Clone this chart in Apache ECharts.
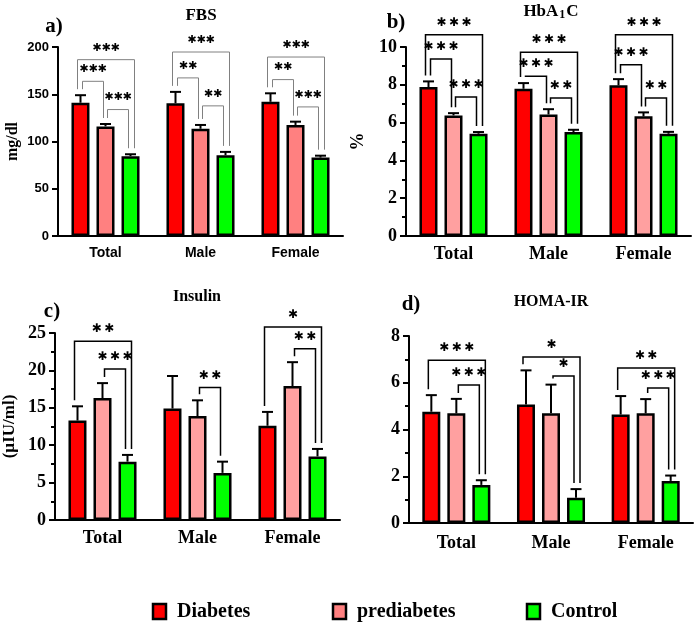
<!DOCTYPE html>
<html>
<head>
<meta charset="utf-8">
<script src="https://cdn.jsdelivr.net/npm/echarts@6/dist/echarts.min.js"></script>
<style>
  html, body { margin: 0; padding: 0; background: #fff; }
  #chart { width: 696px; height: 628px; }
</style>
</head>
<body>
<div id="chart"></div>
<script>
// categories and groups
const categories = ['Total', 'Male', 'Female'];
const groupNames = ['Diabetes', 'prediabetes', 'Control'];

// a) FBS (mg/dl): mean and SEM per group
const fbsDiabetes = [141, 140.5, 142];
const fbsDiabetesSem = [8, 12, 9];
const fbsPre = [116, 113.5, 117.5];
const fbsPreSem = [2.5, 4, 3.5];
const fbsControl = [84.5, 85.5, 83];
const fbsControlSem = [2, 3.5, 2];
// [category, groupA, groupB, bracket height, number of stars]
const fbsBrackets = [
  [0, 0, 2, 186.6, 3], [0, 0, 1, 163.7, 3], [0, 1, 2, 133.8, 3],
  [1, 0, 2, 194.7, 3], [1, 0, 1, 167.3, 2], [1, 1, 2, 137.7, 2],
  [2, 0, 2, 189.4, 3], [2, 0, 1, 165.5, 2], [2, 1, 2, 136.6, 3]
];

// b) HbA1C (%)
const hbaDiabetes = [7.88, 7.79, 7.97];
const hbaDiabetesSem = [0.3, 0.3, 0.33];
const hbaPre = [6.38, 6.43, 6.33];
const hbaPreSem = [0.12, 0.28, 0.21];
const hbaControl = [5.41, 5.5, 5.41];
const hbaControlSem = [0.09, 0.12, 0.1];
const hbaBrackets = [
  [0, 0, 2, 10.65, 3], [0, 0, 1, 9.36, 3], [0, 1, 2, 7.35, 3],
  [1, 0, 2, 9.72, 3], [1, 0, 1, 8.45, 3], [1, 1, 2, 7.3, 2],
  [2, 0, 2, 10.65, 3], [2, 0, 1, 9.06, 3], [2, 1, 2, 7.3, 2]
];

// c) Insulin (µIU/ml)
const insDiabetes = [13.3, 14.9, 12.6];
const insDiabetesSem = [1.9, 4.35, 1.85];
const insPre = [16.3, 13.9, 17.9];
const insPreSem = [2.0, 2.1, 3.2];
const insControl = [7.8, 6.3, 8.5];
const insControlSem = [0.9, 1.5, 1.0];
const insBrackets = [
  [0, 0, 2, 23.9, 2], [0, 1, 2, 20.2, 3],
  [1, 1, 2, 17.7, 2],
  [2, 0, 2, 25.8, 1], [2, 1, 2, 22.9, 2]
];

// d) HOMA-IR
const homaDiabetes = [4.76, 5.07, 4.64];
const homaDiabetesSem = [0.71, 1.46, 0.79];
const homaPre = [4.69, 4.69, 4.69];
const homaPreSem = [0.62, 1.23, 0.61];
const homaControl = [1.63, 1.08, 1.8];
const homaControlSem = [0.2, 0.37, 0.23];
const homaBrackets = [
  [0, 0, 2, 6.96, 3], [0, 1, 2, 5.9, 3],
  [1, 0, 2, 7.1, 1], [1, 1, 2, 6.29, 1],
  [2, 0, 2, 6.63, 2], [2, 1, 2, 5.78, 3]
];

const SERIF = "Liberation Serif";
const SANS = "Liberation Sans";
const BAR_STEP = 25; // px between bar centres in a group

const chart = echarts.init(document.getElementById('chart'));

// builds bars + error bars + significance brackets for one panel
function panelSeries(k, means, sems, brackets, colors, lineColor, lineWidth, starSize, starSep) {
  const series = [];
  means.forEach((m, g) => {
    series.push({
      type: 'bar', name: groupNames[g], xAxisIndex: k, yAxisIndex: k,
      data: m, barWidth: 18, barGap: '39%', silent: true,
      itemStyle: { color: colors[g], borderColor: '#000', borderWidth: 2.5 }
    });
  });

  const errData = [];
  means.forEach((m, g) => m.forEach((v, c) => errData.push([c, v, v + sems[g][c], g])));
  series.push({
    type: 'custom', xAxisIndex: k, yAxisIndex: k, data: errData, z: 3, silent: true,
    encode: { x: 0, y: 2 },
    renderItem: (params, api) => {
      const c = api.value(0), g = api.value(3);
      const p0 = api.coord([c, api.value(1)]);
      const p1 = api.coord([c, api.value(2)]);
      const x = p0[0] + (g - 1) * BAR_STEP;
      const st = { stroke: '#000', lineWidth: 2 };
      return { type: 'group', children: [
        { type: 'line', shape: { x1: x, y1: p0[1], x2: x, y2: p1[1] }, style: st },
        { type: 'line', shape: { x1: x - 5.5, y1: p1[1], x2: x + 5.5, y2: p1[1] }, style: st }
      ] };
    }
  });

  series.push({
    type: 'custom', xAxisIndex: k, yAxisIndex: k, z: 4, silent: true, clip: false,
    data: brackets.map(b => [b[0], b[3]]),
    encode: { x: 0, y: 1 },
    renderItem: (params, api) => {
      const b = brackets[params.dataIndex];
      const c = b[0], i = b[1], j = b[2];
      const outer = (i === 0 && j === 2);
      const base = api.coord([c, b[3]]);
      const xl = base[0] + (i - 1) * BAR_STEP + (outer ? -3 : 2);
      const xr = base[0] + (j - 1) * BAR_STEP + (outer ? 4 : -2);
      const yl = api.coord([c, means[i][c] + sems[i][c]])[1] - 6;
      const yr = api.coord([c, means[j][c] + sems[j][c]])[1] - 6;
      const y = base[1];
      return { type: 'group', children: [
        { type: 'polyline', shape: { points: [[xl, yl], [xl, y], [xr, y], [xr, yr]] },
          style: { stroke: lineColor, lineWidth: lineWidth, fill: null } },
        { type: 'text', style: {
            text: new Array(b[4]).fill('\u2731').join(starSep), x: (xl + xr) / 2, y: y - 12,
            align: 'center', verticalAlign: 'middle',
            font: starSize + "px 'DejaVu Sans', sans-serif", fill: '#000' } }
      ] };
    }
  });
  return series;
}

function xAxisFor(k, font, size, margin) {
  return {
    type: 'category', gridIndex: k, data: categories,
    axisLine: { lineStyle: { color: '#000', width: 2 } },
    axisTick: { alignWithLabel: true, length: 5, lineStyle: { width: 2 } },
    axisLabel: { color: '#000', fontFamily: font, fontWeight: 'bold', fontSize: size, margin: margin }
  };
}

function yAxisFor(k, max, interval, font, size, minor, name, nameGap, nameSize) {
  return {
    type: 'value', gridIndex: k, min: 0, max: max, interval: interval,
    name: name, nameLocation: 'middle', nameRotate: 90, nameGap: nameGap,
    nameTextStyle: { color: '#000', fontFamily: SERIF, fontWeight: 'bold', fontSize: nameSize },
    axisLine: { show: true, lineStyle: { color: '#000', width: 2 } },
    axisTick: { show: true, length: 6, lineStyle: { width: 2 } },
    minorTick: { show: minor, splitNumber: 2, length: 4, lineStyle: { color: '#000', width: 2 } },
    splitLine: { show: false },
    axisLabel: { color: '#000', fontFamily: font, fontWeight: 'bold', fontSize: size, margin: 9 }
  };
}

const darkPink = '#ff8080';
const lightPink = '#ffa0a0';
const legendColors = ['#ff0000', darkPink, '#00ff00'];
const legendX = [153, 333, 527];

// legend drawn as square + label
const legendGraphics = [];
groupNames.forEach((n, i) => {
  legendGraphics.push({ type: 'rect', shape: { x: legendX[i], y: 604, width: 13, height: 15 },
    style: { fill: legendColors[i], stroke: '#000', lineWidth: 2.5 } });
  legendGraphics.push({ type: 'text', style: { text: n, x: legendX[i] + 24, y: 612, verticalAlign: 'middle',
    font: 'bold 20px ' + SERIF, fill: '#000' } });
});

const option = {
  animation: false,
  backgroundColor: '#fff',
  grid: [
    { left: 58, right: 353, top: 47, bottom: 392 },
    { left: 406, right: 5, top: 47, bottom: 392 },
    { left: 54, right: 356, top: 333, bottom: 108 },
    { left: 409, right: 3, top: 336, bottom: 105 }
  ],
  xAxis: [
    xAxisFor(0, SANS, 14, 10),
    xAxisFor(1, SERIF, 18, 9),
    xAxisFor(2, SERIF, 18, 9),
    xAxisFor(3, SERIF, 18, 11)
  ],
  yAxis: [
    yAxisFor(0, 200, 50, SANS, 13, false, 'mg/dl', 37, 16),
    yAxisFor(1, 10, 2, SERIF, 18, true, '%', 39, 18),
    yAxisFor(2, 25, 5, SERIF, 18, true, '(µIU/ml)', 37, 17),
    yAxisFor(3, 8, 2, SERIF, 18, true, '', 40, 16)
  ],
  graphic: [
    { type: 'text', style: { text: 'FBS', x: 201, y: 16, align: 'center', verticalAlign: 'middle', font: 'bold 17px ' + SERIF, fill: '#000' } },
    { type: 'text', style: { text: '{a|HbA}{s|1}{a|C}', x: 551, y: 12, align: 'center', verticalAlign: 'middle', fill: '#000',
        rich: { a: { font: 'bold 17px ' + SERIF, fill: '#000' }, s: { font: 'bold 12px ' + SERIF, fill: '#000', padding: [6, 1, 0, 1] } } } },
    { type: 'text', style: { text: 'Insulin', x: 197, y: 297, align: 'center', verticalAlign: 'middle', font: 'bold 16px ' + SERIF, fill: '#000' } },
    { type: 'text', style: { text: 'HOMA-IR', x: 551, y: 302, align: 'center', verticalAlign: 'middle', font: 'bold 16px ' + SERIF, fill: '#000' } },
    { type: 'text', style: { text: 'a)', x: 54, y: 27, align: 'center', verticalAlign: 'middle', font: 'bold 21px ' + SERIF, fill: '#000' } },
    { type: 'text', style: { text: 'b)', x: 396, y: 23, align: 'center', verticalAlign: 'middle', font: 'bold 21px ' + SERIF, fill: '#000' } },
    { type: 'text', style: { text: 'c)', x: 52, y: 312, align: 'center', verticalAlign: 'middle', font: 'bold 21px ' + SERIF, fill: '#000' } },
    { type: 'text', style: { text: 'd)', x: 411, y: 305, align: 'center', verticalAlign: 'middle', font: 'bold 21px ' + SERIF, fill: '#000' } }
  ].concat(legendGraphics),
  series: [].concat(
    panelSeries(0, [fbsDiabetes, fbsPre, fbsControl], [fbsDiabetesSem, fbsPreSem, fbsControlSem],
      fbsBrackets, ['#ff0000', darkPink, '#00ff00'], '#808080', 1, 11, ''),
    panelSeries(1, [hbaDiabetes, hbaPre, hbaControl], [hbaDiabetesSem, hbaPreSem, hbaControlSem],
      hbaBrackets, ['#ff0000', lightPink, '#00ff00'], '#000', 1.5, 12, '\u2009'),
    panelSeries(2, [insDiabetes, insPre, insControl], [insDiabetesSem, insPreSem, insControlSem],
      insBrackets, ['#ff0000', lightPink, '#00ff00'], '#000', 1.5, 12, '\u2009'),
    panelSeries(3, [homaDiabetes, homaPre, homaControl], [homaDiabetesSem, homaPreSem, homaControlSem],
      homaBrackets, ['#ff0000', lightPink, '#00ff00'], '#000', 1.5, 12, '\u2009')
  )
};

chart.setOption(option);
</script>
</body>
</html>
